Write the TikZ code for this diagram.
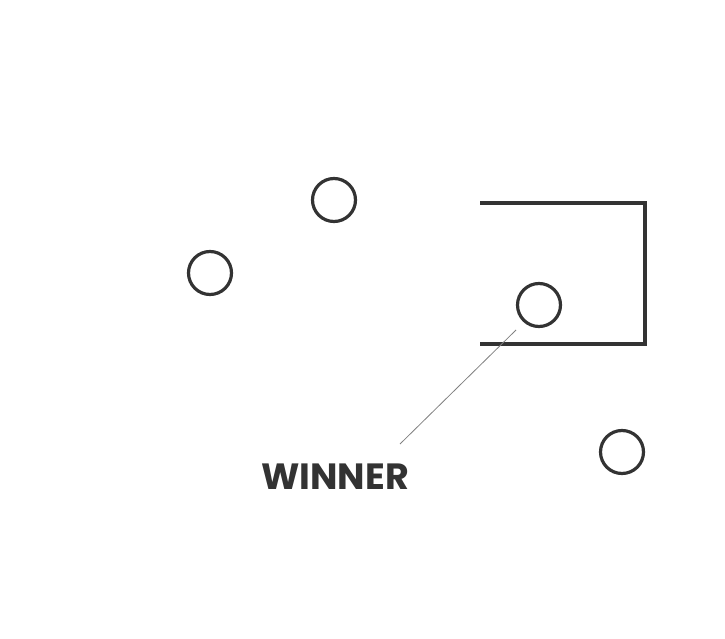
\documentclass[tikz,border=0pt]{standalone}
\usepackage{fontspec}
\newfontfamily\labelfont{Poppins}[UprightFont=* Bold]
\usetikzlibrary{positioning}
\definecolor{ink}{HTML}{333333}
\begin{document}
\begin{tikzpicture}[x=1pt,y=-1pt,
    ball/.style={circle,draw=ink,line width=3.2pt,minimum size=43pt,inner sep=0pt},
    goalline/.style={draw=ink,line width=4pt},
    leader/.style={draw=gray,line width=0.8pt}]
  \useasboundingbox (0,0) rectangle (725,639);
  % balls
  \node (ballA) [ball] at (334,200) {};
  \node (ballB) [ball] at (210,273) {};
  \node (ballW) [ball] at (539,305) {};
  \node (ballC) [ball] at (622,452) {};
  % goal
  \coordinate (goalTL) at (480,203);
  \coordinate (goalTR) at (645,203);
  \coordinate (goalBR) at (645,344);
  \coordinate (goalBL) at (480,344);
  \draw[goalline] (goalTL) -- (goalTR) -- (goalBR) -- (goalBL);
  % label
  \node (winner) [text=ink,font=\labelfont\fontsize{36.5}{40}\selectfont,inner sep=0pt] at (335,477) {WINNER};
  \coordinate (leadA) at (516,330);
  \coordinate (leadB) at (400,444);
  \draw[leader] (leadA) -- (leadB);
\end{tikzpicture}
\end{document}
